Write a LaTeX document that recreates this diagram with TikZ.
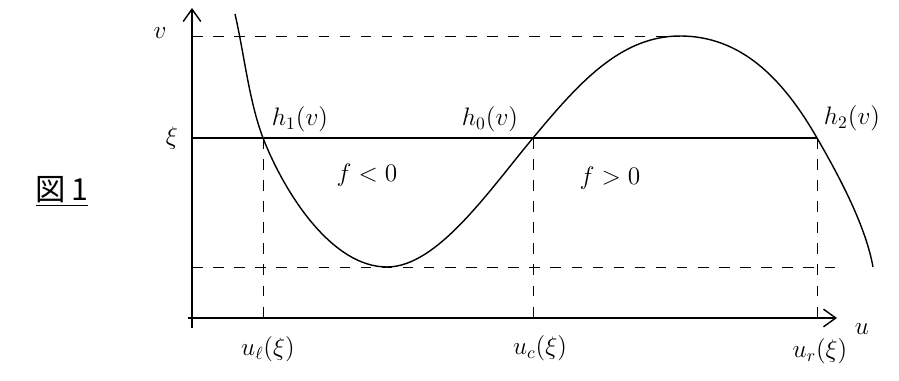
\documentclass[tikz,border=0pt]{standalone}
\usepackage{fontspec}
\newfontfamily\cjk{Noto Sans CJK JP}
\usetikzlibrary{arrows.meta, positioning}

\begin{document}
\begin{tikzpicture}[x=0.02cm, y=0.02cm,
    axis/.style={thick, -{Straight Barb[length=7pt, width=10pt]}},
    guide/.style={thin, dash pattern=on 6pt off 6pt},
    lbl/.style={font=\Large}]
    \useasboundingbox (0,0) rectangle (899,381);

    % Ejes
    \coordinate (O) at (192,63);
    \coordinate (vtop) at (192,373);
    \coordinate (uend) at (837,63);
    \draw[axis] (192,53) -- (vtop);
    \draw[axis] (188,63) -- (uend);
    \node[lbl] (vlab) at (160,348) {$v$};
    \node[lbl] (ulab) at (862,52) {$u$};

    % Puntos de la curva
    \coordinate (h1pt) at (263,243);
    \coordinate (mn) at (387,114);
    \coordinate (h0pt) at (533,243);
    \coordinate (pk) at (680,345);
    \coordinate (h2pt) at (817,243);

    % Líneas auxiliares
    \draw[guide] (O |- pk) -- (pk);
    \draw[guide] (O |- mn) -- (uend |- mn);
    \foreach \p in {h1pt, h0pt, h2pt}
        \draw[guide] (\p) -- (\p |- O);
    \draw[semithick] (O |- h1pt) -- (h2pt);
    \node[lbl] (xi) at (172,243) {$\xi$};

    % Curva
    \draw[thick] (235,367) .. controls (244,328) and (249,280) .. (h1pt)
        .. controls (285,187) and (332,114) .. (mn)
        .. controls (437,114) and (488,189) .. (h0pt)
        .. controls (578,297) and (620,345) .. (pk)
        .. controls (740,345) and (782,304) .. (h2pt)
        .. controls (842,200) and (866,153) .. (873,114);

    % Etiquetas
    \node[lbl] (h1) at (300,262) {$h_1(v)$};
    \node[lbl] (h0) at (490,262) {$h_0(v)$};
    \node[lbl] (h2) at (852,263) {$h_2(v)$};
    \node[lbl] (fneg) at (367,206) {$f<0$};
    \node[lbl] (fpos) at (610,203) {$f>0$};
    \node[lbl] (ul) at (268,32) {$u_\ell(\xi)$};
    \node[lbl] (uc) at (540,33) {$u_c(\xi)$};
    \node[lbl] (ur) at (820,30) {$u_r(\xi)$};
    \node[font=\LARGE] (fig) at (62,190) {\underline{\cjk 図\,1}};
\end{tikzpicture}
\end{document}
